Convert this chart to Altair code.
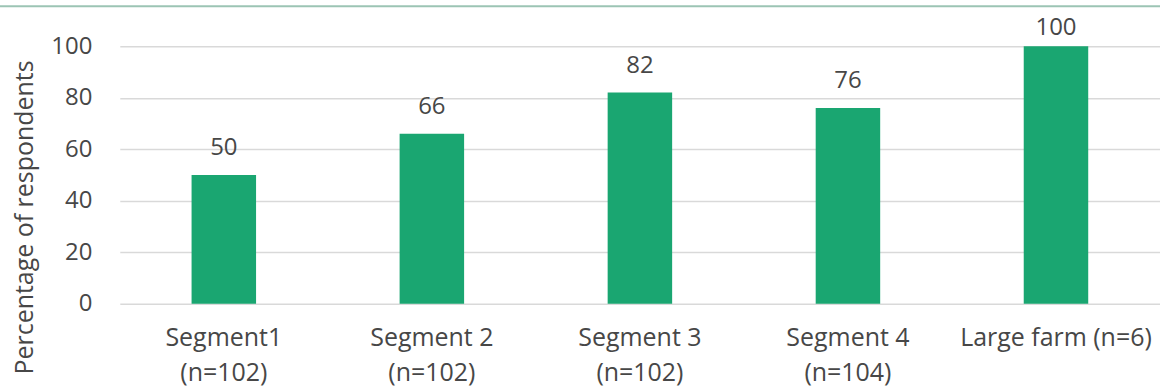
import altair as alt
import pandas as pd

categories = ["Segment1\n(n=102)", "Segment 2\n(n=102)", "Segment 3\n(n=102)",
              "Segment 4\n(n=104)", "Large farm (n=6)"]
values = [50, 66, 82, 76, 100]
y_ticks = [0, 20, 40, 60, 80, 100]

df = pd.DataFrame({"category": categories, "value": values})

FONT = "Open Sans"
TEXT = "#474747"
BAR = "#1aa671"

x_enc = alt.X("category:N", sort=None,
              scale=alt.Scale(paddingInner=0.69, paddingOuter=0.345),
              axis=alt.Axis(title=None, labelAngle=0, labelExpr="split(datum.label, '\\n')",
                            labelFontSize=25, labelFont=FONT, labelColor=TEXT,
                            labelLineHeight=35, labelPadding=22, labelLimit=400,
                            ticks=False, domain=False, grid=False))

y_enc = alt.Y("value:Q", scale=alt.Scale(domain=[0, 100], nice=False),
              axis=alt.Axis(title="Percentage of respondents", values=y_ticks,
                            titleFont=FONT, titleFontSize=25, titleFontWeight="normal",
                            titleColor=TEXT, titleX=-95, titleY=171, titleAngle=270,
                            titleBaseline="middle", titleAlign="center",
                            labelFont=FONT, labelFontSize=24, labelColor=TEXT,
                            labelPadding=28, ticks=False, domain=False,
                            grid=True, gridColor="#d9d9d9", gridWidth=1.5))

bars = alt.Chart(df).mark_bar(color=BAR).encode(x=x_enc, y=y_enc)

labels = alt.Chart(df).transform_calculate(
    label_pos="min(datum.value, 96.5)"
).mark_text(font=FONT, fontSize=24, color=TEXT, baseline="alphabetic", dy=-20).encode(
    x=alt.X("category:N", sort=None),
    y=alt.Y("label_pos:Q"),
    text=alt.Text("value:Q"),
)

top_line = alt.Chart(pd.DataFrame({"a": [0]})).mark_rule(color="#9cc4b4", strokeWidth=2).encode(
    x=alt.value(-120), x2=alt.value(1060), y=alt.value(-40)
)

chart = alt.layer(bars, labels, top_line).properties(
    width=1042, height=258,
    autosize=alt.AutoSizeParams(type="none"),
    padding={"left": 120, "top": 46, "right": 0, "bottom": 88},
    background="white",
).configure_view(stroke=None)

chart.save("out.html", embed_options={"renderer": "svg", "actions": False})
